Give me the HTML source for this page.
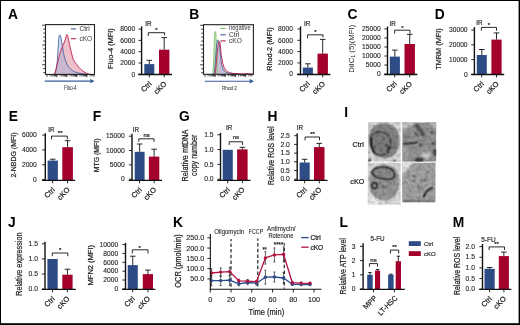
<!DOCTYPE html><html><head><meta charset="utf-8"><style>html,body{margin:0;padding:0;background:#fff;}svg{display:block;font-family:"Liberation Sans", sans-serif;will-change:transform;}</style></head><body>
<svg width="520" height="325" viewBox="0 0 520 325" xmlns="http://www.w3.org/2000/svg">
<rect x="0" y="0" width="520" height="325" fill="#000"/>
<rect x="1" y="1" width="517.6" height="322.2" fill="#fff"/>
<text x="8" y="19.39" font-size="13.8" fill="#000" font-weight="bold">A</text>
<text x="189.2" y="19.39" font-size="13.8" fill="#000" font-weight="bold">B</text>
<text x="347.4" y="19.39" font-size="13.8" fill="#000" font-weight="bold">C</text>
<text x="434.7" y="19.39" font-size="13.8" fill="#000" font-weight="bold">D</text>
<text x="8.8" y="120.59" font-size="13.8" fill="#000" font-weight="bold">E</text>
<text x="92.7" y="120.59" font-size="13.8" fill="#000" font-weight="bold">F</text>
<text x="178.9" y="120.59" font-size="13.8" fill="#000" font-weight="bold">G</text>
<text x="267.6" y="120.59" font-size="13.8" fill="#000" font-weight="bold">H</text>
<text x="344.3" y="116.89" font-size="13.8" fill="#000" font-weight="bold">I</text>
<text x="8" y="227.39" font-size="13.8" fill="#000" font-weight="bold">J</text>
<text x="173" y="227.39" font-size="13.8" fill="#000" font-weight="bold">K</text>
<text x="339.5" y="227.39" font-size="13.8" fill="#000" font-weight="bold">L</text>
<text x="452.7" y="227.39" font-size="13.8" fill="#000" font-weight="bold">M</text>
<rect x="144.3" y="64.1" width="10" height="10.3" fill="#2d4c86" />
<line x1="149.3" y1="60.3" x2="149.3" y2="64.1" stroke="#111" stroke-width="0.9" />
<line x1="146.5" y1="60.3" x2="152.1" y2="60.3" stroke="#111" stroke-width="0.9" />
<rect x="159" y="49.7" width="10.4" height="24.7" fill="#a3002b" />
<line x1="164.2" y1="37.6" x2="164.2" y2="49.7" stroke="#111" stroke-width="0.9" />
<line x1="161.4" y1="37.6" x2="167" y2="37.6" stroke="#111" stroke-width="0.9" />
<line x1="141.6" y1="26.4" x2="141.6" y2="75.1" stroke="#111" stroke-width="1.4" />
<line x1="138.3" y1="74.52" x2="172" y2="74.52" stroke="#111" stroke-width="1.4" />
<line x1="138.5" y1="74.3" x2="141.5" y2="74.3" stroke="#111" stroke-width="0.9" />
<text x="135.2" y="76.5" font-size="7.7" fill="#222" stroke="#222" stroke-width="0.12" text-anchor="end" textLength="3.72" lengthAdjust="spacingAndGlyphs">0</text>
<line x1="138.5" y1="63" x2="141.5" y2="63" stroke="#111" stroke-width="0.9" />
<text x="135.2" y="65.2" font-size="7.7" fill="#222" stroke="#222" stroke-width="0.12" text-anchor="end" textLength="14.88" lengthAdjust="spacingAndGlyphs">2000</text>
<line x1="138.5" y1="51.7" x2="141.5" y2="51.7" stroke="#111" stroke-width="0.9" />
<text x="135.2" y="53.9" font-size="7.7" fill="#222" stroke="#222" stroke-width="0.12" text-anchor="end" textLength="14.88" lengthAdjust="spacingAndGlyphs">4000</text>
<line x1="138.5" y1="40.4" x2="141.5" y2="40.4" stroke="#111" stroke-width="0.9" />
<text x="135.2" y="42.6" font-size="7.7" fill="#222" stroke="#222" stroke-width="0.12" text-anchor="end" textLength="14.88" lengthAdjust="spacingAndGlyphs">6000</text>
<line x1="138.5" y1="29.1" x2="141.5" y2="29.1" stroke="#111" stroke-width="0.9" />
<text x="135.2" y="31.3" font-size="7.7" fill="#222" stroke="#222" stroke-width="0.12" text-anchor="end" textLength="14.88" lengthAdjust="spacingAndGlyphs">8000</text>
<line x1="149.3" y1="74.4" x2="149.3" y2="77.4" stroke="#111" stroke-width="0.9" />
<line x1="164.2" y1="74.4" x2="164.2" y2="77.4" stroke="#111" stroke-width="0.9" />
<text x="152.1" y="84.4" font-size="7.4" fill="#222" stroke="#222" stroke-width="0.22" text-anchor="end" transform="rotate(-45 152.1 84.4)">Ctrl</text>
<text x="167" y="84.4" font-size="7.4" fill="#222" stroke="#222" stroke-width="0.22" text-anchor="end" transform="rotate(-45 167 84.4)">cKO</text>
<path d="M148.3 36L148.3 32.7L164.6 32.7L164.6 35.3" fill="none" stroke="#111" stroke-width="0.9" stroke-linejoin="round"/>
<text x="156.5" y="31.9" font-size="6" fill="#222" stroke="#222" stroke-width="0.22" text-anchor="middle">*</text>
<text x="145.2" y="25.6" font-size="6.3" fill="#333" stroke="#333" stroke-width="0.22">IR</text>
<text x="113.2" y="48.6" font-size="7.6" fill="#222" stroke="#222" stroke-width="0.22" text-anchor="middle" transform="rotate(-90 113.2 48.6)" textLength="40.6" lengthAdjust="spacingAndGlyphs">Fluo-4 (MFI)</text>
<rect x="302.8" y="67.6" width="10.1" height="6.8" fill="#2d4c86" />
<line x1="307.85" y1="63.8" x2="307.85" y2="67.6" stroke="#111" stroke-width="0.9" />
<line x1="305.05" y1="63.8" x2="310.65" y2="63.8" stroke="#111" stroke-width="0.9" />
<rect x="317.5" y="53.6" width="10.4" height="20.8" fill="#a3002b" />
<line x1="322.7" y1="39.4" x2="322.7" y2="53.6" stroke="#111" stroke-width="0.9" />
<line x1="319.9" y1="39.4" x2="325.5" y2="39.4" stroke="#111" stroke-width="0.9" />
<line x1="300.5" y1="26.4" x2="300.5" y2="75.1" stroke="#111" stroke-width="1.4" />
<line x1="297.2" y1="74.52" x2="330.4" y2="74.52" stroke="#111" stroke-width="1.4" />
<line x1="297.4" y1="74.2" x2="300.4" y2="74.2" stroke="#111" stroke-width="0.9" />
<text x="292.9" y="76.4" font-size="7.7" fill="#222" stroke="#222" stroke-width="0.12" text-anchor="end" textLength="3.72" lengthAdjust="spacingAndGlyphs">0</text>
<line x1="297.4" y1="62.9" x2="300.4" y2="62.9" stroke="#111" stroke-width="0.9" />
<text x="292.9" y="65.1" font-size="7.7" fill="#222" stroke="#222" stroke-width="0.12" text-anchor="end" textLength="14.88" lengthAdjust="spacingAndGlyphs">2000</text>
<line x1="297.4" y1="51.6" x2="300.4" y2="51.6" stroke="#111" stroke-width="0.9" />
<text x="292.9" y="53.8" font-size="7.7" fill="#222" stroke="#222" stroke-width="0.12" text-anchor="end" textLength="14.88" lengthAdjust="spacingAndGlyphs">4000</text>
<line x1="297.4" y1="40.3" x2="300.4" y2="40.3" stroke="#111" stroke-width="0.9" />
<text x="292.9" y="42.5" font-size="7.7" fill="#222" stroke="#222" stroke-width="0.12" text-anchor="end" textLength="14.88" lengthAdjust="spacingAndGlyphs">6000</text>
<line x1="297.4" y1="29" x2="300.4" y2="29" stroke="#111" stroke-width="0.9" />
<text x="292.9" y="31.2" font-size="7.7" fill="#222" stroke="#222" stroke-width="0.12" text-anchor="end" textLength="14.88" lengthAdjust="spacingAndGlyphs">8000</text>
<line x1="307.6" y1="74.4" x2="307.6" y2="77.4" stroke="#111" stroke-width="0.9" />
<line x1="322.7" y1="74.4" x2="322.7" y2="77.4" stroke="#111" stroke-width="0.9" />
<text x="310.4" y="84.4" font-size="7.4" fill="#222" stroke="#222" stroke-width="0.22" text-anchor="end" transform="rotate(-45 310.4 84.4)">Ctrl</text>
<text x="325.5" y="84.4" font-size="7.4" fill="#222" stroke="#222" stroke-width="0.22" text-anchor="end" transform="rotate(-45 325.5 84.4)">cKO</text>
<path d="M307.6 38.3L307.6 34.8L323 34.8L323 37.5" fill="none" stroke="#111" stroke-width="0.9" stroke-linejoin="round"/>
<text x="315.3" y="34" font-size="6" fill="#222" stroke="#222" stroke-width="0.22" text-anchor="middle">*</text>
<text x="303.9" y="25.5" font-size="6.3" fill="#333" stroke="#333" stroke-width="0.22">IR</text>
<text x="271.8" y="49.1" font-size="7.6" fill="#222" stroke="#222" stroke-width="0.22" text-anchor="middle" transform="rotate(-90 271.8 49.1)" textLength="43.4" lengthAdjust="spacingAndGlyphs">Rhod-2 (MFI)</text>
<rect x="389.8" y="56.6" width="10.1" height="17.8" fill="#2d4c86" />
<line x1="394.85" y1="50.1" x2="394.85" y2="56.6" stroke="#111" stroke-width="0.9" />
<line x1="392.05" y1="50.1" x2="397.65" y2="50.1" stroke="#111" stroke-width="0.9" />
<rect x="404.5" y="44" width="10.4" height="30.4" fill="#a3002b" />
<line x1="409.7" y1="34.4" x2="409.7" y2="44" stroke="#111" stroke-width="0.9" />
<line x1="406.9" y1="34.4" x2="412.5" y2="34.4" stroke="#111" stroke-width="0.9" />
<line x1="387.5" y1="26.5" x2="387.5" y2="75.1" stroke="#111" stroke-width="1.4" />
<line x1="384.2" y1="74.52" x2="417.4" y2="74.52" stroke="#111" stroke-width="1.4" />
<line x1="384.4" y1="74.1" x2="387.4" y2="74.1" stroke="#111" stroke-width="0.9" />
<text x="380.7" y="76.3" font-size="7.7" fill="#222" stroke="#222" stroke-width="0.12" text-anchor="end" textLength="3.72" lengthAdjust="spacingAndGlyphs">0</text>
<line x1="384.4" y1="65.06" x2="387.4" y2="65.06" stroke="#111" stroke-width="0.9" />
<text x="380.7" y="67.26" font-size="7.7" fill="#222" stroke="#222" stroke-width="0.12" text-anchor="end" textLength="14.88" lengthAdjust="spacingAndGlyphs">5000</text>
<line x1="384.4" y1="56.02" x2="387.4" y2="56.02" stroke="#111" stroke-width="0.9" />
<text x="380.7" y="58.22" font-size="7.7" fill="#222" stroke="#222" stroke-width="0.12" text-anchor="end" textLength="18.6" lengthAdjust="spacingAndGlyphs">10000</text>
<line x1="384.4" y1="46.98" x2="387.4" y2="46.98" stroke="#111" stroke-width="0.9" />
<text x="380.7" y="49.18" font-size="7.7" fill="#222" stroke="#222" stroke-width="0.12" text-anchor="end" textLength="18.6" lengthAdjust="spacingAndGlyphs">15000</text>
<line x1="384.4" y1="37.94" x2="387.4" y2="37.94" stroke="#111" stroke-width="0.9" />
<text x="380.7" y="40.14" font-size="7.7" fill="#222" stroke="#222" stroke-width="0.12" text-anchor="end" textLength="18.6" lengthAdjust="spacingAndGlyphs">20000</text>
<line x1="384.4" y1="28.9" x2="387.4" y2="28.9" stroke="#111" stroke-width="0.9" />
<text x="380.7" y="31.1" font-size="7.7" fill="#222" stroke="#222" stroke-width="0.12" text-anchor="end" textLength="18.6" lengthAdjust="spacingAndGlyphs">25000</text>
<line x1="394.7" y1="74.4" x2="394.7" y2="77.4" stroke="#111" stroke-width="0.9" />
<line x1="409.7" y1="74.4" x2="409.7" y2="77.4" stroke="#111" stroke-width="0.9" />
<text x="397.5" y="84.4" font-size="7.4" fill="#222" stroke="#222" stroke-width="0.22" text-anchor="end" transform="rotate(-45 397.5 84.4)">Ctrl</text>
<text x="412.5" y="84.4" font-size="7.4" fill="#222" stroke="#222" stroke-width="0.22" text-anchor="end" transform="rotate(-45 412.5 84.4)">cKO</text>
<path d="M394.6 33.6L394.6 30.2L410 30.2L410 33.6" fill="none" stroke="#111" stroke-width="0.9" stroke-linejoin="round"/>
<text x="402.3" y="29.6" font-size="6" fill="#222" stroke="#222" stroke-width="0.22" text-anchor="middle">*</text>
<text x="389.4" y="25.5" font-size="6.3" fill="#333" stroke="#333" stroke-width="0.22">IR</text>
<rect x="476.8" y="55" width="10" height="19.4" fill="#2d4c86" />
<line x1="481.8" y1="49.5" x2="481.8" y2="55" stroke="#111" stroke-width="0.9" />
<line x1="479" y1="49.5" x2="484.6" y2="49.5" stroke="#111" stroke-width="0.9" />
<rect x="491.4" y="39.6" width="10.2" height="34.8" fill="#a3002b" />
<line x1="496.5" y1="32.9" x2="496.5" y2="39.6" stroke="#111" stroke-width="0.9" />
<line x1="493.7" y1="32.9" x2="499.3" y2="32.9" stroke="#111" stroke-width="0.9" />
<line x1="474.4" y1="27.1" x2="474.4" y2="75.1" stroke="#111" stroke-width="1.4" />
<line x1="471.1" y1="74.52" x2="504.2" y2="74.52" stroke="#111" stroke-width="1.4" />
<line x1="471.3" y1="74.4" x2="474.3" y2="74.4" stroke="#111" stroke-width="0.9" />
<text x="467.6" y="76.6" font-size="7.7" fill="#222" stroke="#222" stroke-width="0.12" text-anchor="end" textLength="3.72" lengthAdjust="spacingAndGlyphs">0</text>
<line x1="471.3" y1="59.63" x2="474.3" y2="59.63" stroke="#111" stroke-width="0.9" />
<text x="467.6" y="61.83" font-size="7.7" fill="#222" stroke="#222" stroke-width="0.12" text-anchor="end" textLength="18.6" lengthAdjust="spacingAndGlyphs">10000</text>
<line x1="471.3" y1="44.86" x2="474.3" y2="44.86" stroke="#111" stroke-width="0.9" />
<text x="467.6" y="47.06" font-size="7.7" fill="#222" stroke="#222" stroke-width="0.12" text-anchor="end" textLength="18.6" lengthAdjust="spacingAndGlyphs">20000</text>
<line x1="471.3" y1="30.09" x2="474.3" y2="30.09" stroke="#111" stroke-width="0.9" />
<text x="467.6" y="32.29" font-size="7.7" fill="#222" stroke="#222" stroke-width="0.12" text-anchor="end" textLength="18.6" lengthAdjust="spacingAndGlyphs">30000</text>
<line x1="481.7" y1="74.4" x2="481.7" y2="77.4" stroke="#111" stroke-width="0.9" />
<line x1="496.5" y1="74.4" x2="496.5" y2="77.4" stroke="#111" stroke-width="0.9" />
<text x="484.5" y="84.4" font-size="7.4" fill="#222" stroke="#222" stroke-width="0.22" text-anchor="end" transform="rotate(-45 484.5 84.4)">Ctrl</text>
<text x="499.3" y="84.4" font-size="7.4" fill="#222" stroke="#222" stroke-width="0.22" text-anchor="end" transform="rotate(-45 499.3 84.4)">cKO</text>
<path d="M481.4 30.7L481.4 27.4L496.5 27.4L496.5 30.7" fill="none" stroke="#111" stroke-width="0.9" stroke-linejoin="round"/>
<text x="488.8" y="26.5" font-size="6" fill="#222" stroke="#222" stroke-width="0.22" text-anchor="middle">*</text>
<text x="476.2" y="24.9" font-size="6.3" fill="#333" stroke="#333" stroke-width="0.22">IR</text>
<text x="441.3" y="49" font-size="7.6" fill="#222" stroke="#222" stroke-width="0.22" text-anchor="middle" transform="rotate(-90 441.3 49)" textLength="41.5" lengthAdjust="spacingAndGlyphs">TMRM (MFI)</text>
<rect x="47.6" y="160.6" width="10.3" height="19.7" fill="#2d4c86" />
<line x1="52.75" y1="159.2" x2="52.75" y2="160.6" stroke="#111" stroke-width="0.9" />
<line x1="49.95" y1="159.2" x2="55.55" y2="159.2" stroke="#111" stroke-width="0.9" />
<rect x="62.3" y="147.2" width="10.6" height="33.1" fill="#a3002b" />
<line x1="67.6" y1="140.7" x2="67.6" y2="147.2" stroke="#111" stroke-width="0.9" />
<line x1="64.8" y1="140.7" x2="70.4" y2="140.7" stroke="#111" stroke-width="0.9" />
<line x1="45.3" y1="133.3" x2="45.3" y2="181" stroke="#111" stroke-width="1.4" />
<line x1="42" y1="180.42" x2="75.2" y2="180.42" stroke="#111" stroke-width="1.4" />
<line x1="42.2" y1="179.6" x2="45.2" y2="179.6" stroke="#111" stroke-width="0.9" />
<text x="36.8" y="181.8" font-size="7.7" fill="#222" stroke="#222" stroke-width="0.12" text-anchor="end" textLength="3.72" lengthAdjust="spacingAndGlyphs">0</text>
<line x1="42.2" y1="164.75" x2="45.2" y2="164.75" stroke="#111" stroke-width="0.9" />
<text x="36.8" y="166.95" font-size="7.7" fill="#222" stroke="#222" stroke-width="0.12" text-anchor="end" textLength="14.88" lengthAdjust="spacingAndGlyphs">2000</text>
<line x1="42.2" y1="149.9" x2="45.2" y2="149.9" stroke="#111" stroke-width="0.9" />
<text x="36.8" y="152.1" font-size="7.7" fill="#222" stroke="#222" stroke-width="0.12" text-anchor="end" textLength="14.88" lengthAdjust="spacingAndGlyphs">4000</text>
<line x1="42.2" y1="135.05" x2="45.2" y2="135.05" stroke="#111" stroke-width="0.9" />
<text x="36.8" y="137.25" font-size="7.7" fill="#222" stroke="#222" stroke-width="0.12" text-anchor="end" textLength="14.88" lengthAdjust="spacingAndGlyphs">6000</text>
<line x1="52.6" y1="180.3" x2="52.6" y2="183.3" stroke="#111" stroke-width="0.9" />
<line x1="67.5" y1="180.3" x2="67.5" y2="183.3" stroke="#111" stroke-width="0.9" />
<text x="55.4" y="190.3" font-size="7.4" fill="#222" stroke="#222" stroke-width="0.22" text-anchor="end" transform="rotate(-45 55.4 190.3)">Ctrl</text>
<text x="70.3" y="190.3" font-size="7.4" fill="#222" stroke="#222" stroke-width="0.22" text-anchor="end" transform="rotate(-45 70.3 190.3)">cKO</text>
<path d="M51.5 139.4L51.5 136.1L67.3 136.1L67.3 139.4" fill="none" stroke="#111" stroke-width="0.9" stroke-linejoin="round"/>
<text x="60.2" y="135.4" font-size="6" fill="#222" stroke="#222" stroke-width="0.22" text-anchor="middle">**</text>
<text x="48.3" y="131.5" font-size="6.3" fill="#333" stroke="#333" stroke-width="0.22">IR</text>
<text x="16.3" y="155" font-size="7.6" fill="#222" stroke="#222" stroke-width="0.22" text-anchor="middle" transform="rotate(-90 16.3 155)" textLength="45.2" lengthAdjust="spacingAndGlyphs">2-NBDG (MFI)</text>
<rect x="134.7" y="151.8" width="9.9" height="28.5" fill="#2d4c86" />
<line x1="139.65" y1="144" x2="139.65" y2="151.8" stroke="#111" stroke-width="0.9" />
<line x1="136.85" y1="144" x2="142.45" y2="144" stroke="#111" stroke-width="0.9" />
<rect x="148.9" y="156.6" width="10.4" height="23.7" fill="#a3002b" />
<line x1="154.1" y1="149.2" x2="154.1" y2="156.6" stroke="#111" stroke-width="0.9" />
<line x1="151.3" y1="149.2" x2="156.9" y2="149.2" stroke="#111" stroke-width="0.9" />
<line x1="132" y1="133.8" x2="132" y2="181" stroke="#111" stroke-width="1.4" />
<line x1="128.7" y1="180.42" x2="162" y2="180.42" stroke="#111" stroke-width="1.4" />
<line x1="128.9" y1="179.2" x2="131.9" y2="179.2" stroke="#111" stroke-width="0.9" />
<text x="124.7" y="181.4" font-size="7.7" fill="#222" stroke="#222" stroke-width="0.12" text-anchor="end" textLength="3.72" lengthAdjust="spacingAndGlyphs">0</text>
<line x1="128.9" y1="164.87" x2="131.9" y2="164.87" stroke="#111" stroke-width="0.9" />
<text x="124.7" y="167.07" font-size="7.7" fill="#222" stroke="#222" stroke-width="0.12" text-anchor="end" textLength="14.88" lengthAdjust="spacingAndGlyphs">5000</text>
<line x1="128.9" y1="150.54" x2="131.9" y2="150.54" stroke="#111" stroke-width="0.9" />
<text x="124.7" y="152.74" font-size="7.7" fill="#222" stroke="#222" stroke-width="0.12" text-anchor="end" textLength="18.6" lengthAdjust="spacingAndGlyphs">10000</text>
<line x1="128.9" y1="136.21" x2="131.9" y2="136.21" stroke="#111" stroke-width="0.9" />
<text x="124.7" y="138.41" font-size="7.7" fill="#222" stroke="#222" stroke-width="0.12" text-anchor="end" textLength="18.6" lengthAdjust="spacingAndGlyphs">15000</text>
<line x1="139.5" y1="180.3" x2="139.5" y2="183.3" stroke="#111" stroke-width="0.9" />
<line x1="154.1" y1="180.3" x2="154.1" y2="183.3" stroke="#111" stroke-width="0.9" />
<text x="142.3" y="190.3" font-size="7.4" fill="#222" stroke="#222" stroke-width="0.22" text-anchor="end" transform="rotate(-45 142.3 190.3)">Ctrl</text>
<text x="156.9" y="190.3" font-size="7.4" fill="#222" stroke="#222" stroke-width="0.22" text-anchor="end" transform="rotate(-45 156.9 190.3)">cKO</text>
<path d="M138.8 141.8L138.8 138.8L154 138.8L154 141.8" fill="none" stroke="#111" stroke-width="0.9" stroke-linejoin="round"/>
<text x="146.7" y="137.2" font-size="6" fill="#222" stroke="#222" stroke-width="0.22" text-anchor="middle">ns</text>
<text x="132.8" y="131.5" font-size="6.3" fill="#333" stroke="#333" stroke-width="0.22">IR</text>
<text x="98.9" y="155.4" font-size="7.6" fill="#222" stroke="#222" stroke-width="0.22" text-anchor="middle" transform="rotate(-90 98.9 155.4)" textLength="33.8" lengthAdjust="spacingAndGlyphs">MTG (MFI)</text>
<rect x="222.7" y="149.8" width="10.1" height="30.5" fill="#2d4c86" />
<rect x="237.1" y="149.4" width="10.5" height="30.9" fill="#a3002b" />
<line x1="242.35" y1="147.3" x2="242.35" y2="149.4" stroke="#111" stroke-width="0.9" />
<line x1="239.55" y1="147.3" x2="245.15" y2="147.3" stroke="#111" stroke-width="0.9" />
<line x1="220.5" y1="132.9" x2="220.5" y2="181" stroke="#111" stroke-width="1.4" />
<line x1="217.2" y1="180.42" x2="250.5" y2="180.42" stroke="#111" stroke-width="1.4" />
<line x1="217.4" y1="179.2" x2="220.4" y2="179.2" stroke="#111" stroke-width="0.9" />
<text x="213.6" y="181.4" font-size="7.7" fill="#222" stroke="#222" stroke-width="0.12" text-anchor="end" textLength="9.44" lengthAdjust="spacingAndGlyphs">0.0</text>
<line x1="217.4" y1="164.4" x2="220.4" y2="164.4" stroke="#111" stroke-width="0.9" />
<text x="213.6" y="166.6" font-size="7.7" fill="#222" stroke="#222" stroke-width="0.12" text-anchor="end" textLength="9.44" lengthAdjust="spacingAndGlyphs">0.5</text>
<line x1="217.4" y1="149.6" x2="220.4" y2="149.6" stroke="#111" stroke-width="0.9" />
<text x="213.6" y="151.8" font-size="7.7" fill="#222" stroke="#222" stroke-width="0.12" text-anchor="end" textLength="9.44" lengthAdjust="spacingAndGlyphs">1.0</text>
<line x1="217.4" y1="134.8" x2="220.4" y2="134.8" stroke="#111" stroke-width="0.9" />
<text x="213.6" y="137" font-size="7.7" fill="#222" stroke="#222" stroke-width="0.12" text-anchor="end" textLength="9.44" lengthAdjust="spacingAndGlyphs">1.5</text>
<line x1="227.7" y1="180.3" x2="227.7" y2="183.3" stroke="#111" stroke-width="0.9" />
<line x1="242.4" y1="180.3" x2="242.4" y2="183.3" stroke="#111" stroke-width="0.9" />
<text x="230.5" y="190.3" font-size="7.4" fill="#222" stroke="#222" stroke-width="0.22" text-anchor="end" transform="rotate(-45 230.5 190.3)">Ctrl</text>
<text x="245.2" y="190.3" font-size="7.4" fill="#222" stroke="#222" stroke-width="0.22" text-anchor="end" transform="rotate(-45 245.2 190.3)">cKO</text>
<path d="M229.2 144.9L229.2 141.8L242.6 141.8L242.6 144.9" fill="none" stroke="#111" stroke-width="0.9" stroke-linejoin="round"/>
<text x="235.8" y="139" font-size="6" fill="#222" stroke="#222" stroke-width="0.22" text-anchor="middle">ns</text>
<text x="226" y="130.2" font-size="6.3" fill="#333" stroke="#333" stroke-width="0.22">IR</text>
<text x="188" y="155.5" font-size="8.3" fill="#222" stroke="#222" stroke-width="0.22" text-anchor="middle" transform="rotate(-90 188 155.5)" textLength="52" lengthAdjust="spacingAndGlyphs">Relative mtDNA</text>
<text x="196.9" y="155.3" font-size="8.3" fill="#222" stroke="#222" stroke-width="0.22" text-anchor="middle" transform="rotate(-90 196.9 155.3)" textLength="41.2" lengthAdjust="spacingAndGlyphs">copy number</text>
<rect x="299.6" y="162.5" width="10.1" height="17.8" fill="#2d4c86" />
<line x1="304.65" y1="159.3" x2="304.65" y2="162.5" stroke="#111" stroke-width="0.9" />
<line x1="301.85" y1="159.3" x2="307.45" y2="159.3" stroke="#111" stroke-width="0.9" />
<rect x="314" y="147.1" width="10.5" height="33.2" fill="#a3002b" />
<line x1="319.25" y1="143.4" x2="319.25" y2="147.1" stroke="#111" stroke-width="0.9" />
<line x1="316.45" y1="143.4" x2="322.05" y2="143.4" stroke="#111" stroke-width="0.9" />
<line x1="297.2" y1="133.3" x2="297.2" y2="181" stroke="#111" stroke-width="1.4" />
<line x1="293.9" y1="180.42" x2="327.5" y2="180.42" stroke="#111" stroke-width="1.4" />
<line x1="294.1" y1="179.2" x2="297.1" y2="179.2" stroke="#111" stroke-width="0.9" />
<text x="289.9" y="181.4" font-size="7.7" fill="#222" stroke="#222" stroke-width="0.12" text-anchor="end" textLength="9.44" lengthAdjust="spacingAndGlyphs">0.0</text>
<line x1="294.1" y1="170.5" x2="297.1" y2="170.5" stroke="#111" stroke-width="0.9" />
<text x="289.9" y="172.7" font-size="7.7" fill="#222" stroke="#222" stroke-width="0.12" text-anchor="end" textLength="9.44" lengthAdjust="spacingAndGlyphs">0.5</text>
<line x1="294.1" y1="161.8" x2="297.1" y2="161.8" stroke="#111" stroke-width="0.9" />
<text x="289.9" y="164" font-size="7.7" fill="#222" stroke="#222" stroke-width="0.12" text-anchor="end" textLength="9.44" lengthAdjust="spacingAndGlyphs">1.0</text>
<line x1="294.1" y1="153.1" x2="297.1" y2="153.1" stroke="#111" stroke-width="0.9" />
<text x="289.9" y="155.3" font-size="7.7" fill="#222" stroke="#222" stroke-width="0.12" text-anchor="end" textLength="9.44" lengthAdjust="spacingAndGlyphs">1.5</text>
<line x1="294.1" y1="144.4" x2="297.1" y2="144.4" stroke="#111" stroke-width="0.9" />
<text x="289.9" y="146.6" font-size="7.7" fill="#222" stroke="#222" stroke-width="0.12" text-anchor="end" textLength="9.44" lengthAdjust="spacingAndGlyphs">2.0</text>
<line x1="294.1" y1="135.7" x2="297.1" y2="135.7" stroke="#111" stroke-width="0.9" />
<text x="289.9" y="137.9" font-size="7.7" fill="#222" stroke="#222" stroke-width="0.12" text-anchor="end" textLength="9.44" lengthAdjust="spacingAndGlyphs">2.5</text>
<line x1="304.6" y1="180.3" x2="304.6" y2="183.3" stroke="#111" stroke-width="0.9" />
<line x1="319.3" y1="180.3" x2="319.3" y2="183.3" stroke="#111" stroke-width="0.9" />
<text x="307.4" y="190.3" font-size="7.4" fill="#222" stroke="#222" stroke-width="0.22" text-anchor="end" transform="rotate(-45 307.4 190.3)">Ctrl</text>
<text x="322.1" y="190.3" font-size="7.4" fill="#222" stroke="#222" stroke-width="0.22" text-anchor="end" transform="rotate(-45 322.1 190.3)">cKO</text>
<path d="M305.1 140.3L305.1 137L319.5 137L319.5 140.3" fill="none" stroke="#111" stroke-width="0.9" stroke-linejoin="round"/>
<text x="312.5" y="135.9" font-size="6" fill="#222" stroke="#222" stroke-width="0.22" text-anchor="middle">**</text>
<text x="296.8" y="130.2" font-size="6.3" fill="#333" stroke="#333" stroke-width="0.22">IR</text>
<text x="274.4" y="155.7" font-size="8.3" fill="#222" stroke="#222" stroke-width="0.22" text-anchor="middle" transform="rotate(-90 274.4 155.7)" textLength="58.4" lengthAdjust="spacingAndGlyphs">Relative ROS level</text>
<rect x="47.4" y="259" width="10.3" height="30.3" fill="#2d4c86" />
<rect x="62.3" y="274.7" width="10.3" height="14.6" fill="#a3002b" />
<line x1="67.45" y1="269.2" x2="67.45" y2="274.7" stroke="#111" stroke-width="0.9" />
<line x1="64.65" y1="269.2" x2="70.25" y2="269.2" stroke="#111" stroke-width="0.9" />
<line x1="45" y1="241.7" x2="45" y2="290" stroke="#111" stroke-width="1.4" />
<line x1="41.7" y1="289.42" x2="75.8" y2="289.42" stroke="#111" stroke-width="1.4" />
<line x1="41.9" y1="289.1" x2="44.9" y2="289.1" stroke="#111" stroke-width="0.9" />
<text x="38" y="291.3" font-size="7.7" fill="#222" stroke="#222" stroke-width="0.12" text-anchor="end" textLength="9.44" lengthAdjust="spacingAndGlyphs">0.0</text>
<line x1="41.9" y1="274" x2="44.9" y2="274" stroke="#111" stroke-width="0.9" />
<text x="38" y="276.2" font-size="7.7" fill="#222" stroke="#222" stroke-width="0.12" text-anchor="end" textLength="9.44" lengthAdjust="spacingAndGlyphs">0.5</text>
<line x1="41.9" y1="258.9" x2="44.9" y2="258.9" stroke="#111" stroke-width="0.9" />
<text x="38" y="261.1" font-size="7.7" fill="#222" stroke="#222" stroke-width="0.12" text-anchor="end" textLength="9.44" lengthAdjust="spacingAndGlyphs">1.0</text>
<line x1="41.9" y1="243.8" x2="44.9" y2="243.8" stroke="#111" stroke-width="0.9" />
<text x="38" y="246" font-size="7.7" fill="#222" stroke="#222" stroke-width="0.12" text-anchor="end" textLength="9.44" lengthAdjust="spacingAndGlyphs">1.5</text>
<line x1="52.5" y1="289.3" x2="52.5" y2="292.3" stroke="#111" stroke-width="0.9" />
<line x1="67.4" y1="289.3" x2="67.4" y2="292.3" stroke="#111" stroke-width="0.9" />
<text x="55.3" y="299.3" font-size="7.4" fill="#222" stroke="#222" stroke-width="0.22" text-anchor="end" transform="rotate(-45 55.3 299.3)">Ctrl</text>
<text x="70.2" y="299.3" font-size="7.4" fill="#222" stroke="#222" stroke-width="0.22" text-anchor="end" transform="rotate(-45 70.2 299.3)">cKO</text>
<path d="M52.3 256.2L52.3 253L67.8 253L67.8 256.2" fill="none" stroke="#111" stroke-width="0.9" stroke-linejoin="round"/>
<text x="60.1" y="252.2" font-size="6" fill="#222" stroke="#222" stroke-width="0.22" text-anchor="middle">*</text>
<text x="22.4" y="264.2" font-size="8.7" fill="#222" stroke="#222" stroke-width="0.22" text-anchor="middle" transform="rotate(-90 22.4 264.2)" textLength="63.3" lengthAdjust="spacingAndGlyphs">Relative expression</text>
<rect x="127.7" y="265.1" width="10.1" height="24.2" fill="#2d4c86" />
<line x1="132.75" y1="256.2" x2="132.75" y2="265.1" stroke="#111" stroke-width="0.9" />
<line x1="129.95" y1="256.2" x2="135.55" y2="256.2" stroke="#111" stroke-width="0.9" />
<rect x="142.8" y="274.1" width="10.2" height="15.2" fill="#a3002b" />
<line x1="147.9" y1="270.1" x2="147.9" y2="274.1" stroke="#111" stroke-width="0.9" />
<line x1="145.1" y1="270.1" x2="150.7" y2="270.1" stroke="#111" stroke-width="0.9" />
<line x1="125.5" y1="242.8" x2="125.5" y2="290" stroke="#111" stroke-width="1.4" />
<line x1="122.2" y1="289.42" x2="155.4" y2="289.42" stroke="#111" stroke-width="1.4" />
<line x1="122.4" y1="288.9" x2="125.4" y2="288.9" stroke="#111" stroke-width="0.9" />
<text x="118.2" y="291.1" font-size="7.7" fill="#222" stroke="#222" stroke-width="0.12" text-anchor="end" textLength="3.72" lengthAdjust="spacingAndGlyphs">0</text>
<line x1="122.4" y1="280.04" x2="125.4" y2="280.04" stroke="#111" stroke-width="0.9" />
<text x="118.2" y="282.24" font-size="7.7" fill="#222" stroke="#222" stroke-width="0.12" text-anchor="end" textLength="14.88" lengthAdjust="spacingAndGlyphs">2000</text>
<line x1="122.4" y1="271.18" x2="125.4" y2="271.18" stroke="#111" stroke-width="0.9" />
<text x="118.2" y="273.38" font-size="7.7" fill="#222" stroke="#222" stroke-width="0.12" text-anchor="end" textLength="14.88" lengthAdjust="spacingAndGlyphs">4000</text>
<line x1="122.4" y1="262.32" x2="125.4" y2="262.32" stroke="#111" stroke-width="0.9" />
<text x="118.2" y="264.52" font-size="7.7" fill="#222" stroke="#222" stroke-width="0.12" text-anchor="end" textLength="14.88" lengthAdjust="spacingAndGlyphs">6000</text>
<line x1="122.4" y1="253.46" x2="125.4" y2="253.46" stroke="#111" stroke-width="0.9" />
<text x="118.2" y="255.66" font-size="7.7" fill="#222" stroke="#222" stroke-width="0.12" text-anchor="end" textLength="14.88" lengthAdjust="spacingAndGlyphs">8000</text>
<line x1="122.4" y1="244.6" x2="125.4" y2="244.6" stroke="#111" stroke-width="0.9" />
<text x="118.2" y="246.8" font-size="7.7" fill="#222" stroke="#222" stroke-width="0.12" text-anchor="end" textLength="18.6" lengthAdjust="spacingAndGlyphs">10000</text>
<line x1="132.7" y1="289.3" x2="132.7" y2="292.3" stroke="#111" stroke-width="0.9" />
<line x1="147.9" y1="289.3" x2="147.9" y2="292.3" stroke="#111" stroke-width="0.9" />
<text x="135.5" y="299.3" font-size="7.4" fill="#222" stroke="#222" stroke-width="0.22" text-anchor="end" transform="rotate(-45 135.5 299.3)">Ctrl</text>
<text x="150.7" y="299.3" font-size="7.4" fill="#222" stroke="#222" stroke-width="0.22" text-anchor="end" transform="rotate(-45 150.7 299.3)">cKO</text>
<path d="M132.3 253.5L132.3 249.8L148 249.8L148 253.5" fill="none" stroke="#111" stroke-width="0.9" stroke-linejoin="round"/>
<text x="139.7" y="249.6" font-size="6" fill="#222" stroke="#222" stroke-width="0.22" text-anchor="middle">*</text>
<text x="93.2" y="265.2" font-size="7.6" fill="#222" stroke="#222" stroke-width="0.22" text-anchor="middle" transform="rotate(-90 93.2 265.2)" textLength="40.5" lengthAdjust="spacingAndGlyphs">MFN2 (MFI)</text>
<rect x="367.2" y="274.7" width="5.5" height="14.6" fill="#2d4c86" />
<line x1="369.95" y1="272.5" x2="369.95" y2="274.7" stroke="#111" stroke-width="0.9" />
<line x1="368.25" y1="272.5" x2="371.65" y2="272.5" stroke="#111" stroke-width="0.9" />
<rect x="375" y="270.6" width="5.1" height="18.7" fill="#a3002b" />
<line x1="377.55" y1="269.5" x2="377.55" y2="270.6" stroke="#111" stroke-width="0.9" />
<line x1="375.85" y1="269.5" x2="379.25" y2="269.5" stroke="#111" stroke-width="0.9" />
<rect x="388.1" y="274.7" width="5.5" height="14.6" fill="#2d4c86" />
<line x1="390.85" y1="274.2" x2="390.85" y2="274.7" stroke="#111" stroke-width="0.9" />
<line x1="389.15" y1="274.2" x2="392.55" y2="274.2" stroke="#111" stroke-width="0.9" />
<rect x="395.7" y="261.2" width="5.3" height="28.1" fill="#a3002b" />
<line x1="398.35" y1="256.2" x2="398.35" y2="261.2" stroke="#111" stroke-width="0.9" />
<line x1="396.65" y1="256.2" x2="400.05" y2="256.2" stroke="#111" stroke-width="0.9" />
<line x1="363.1" y1="243.3" x2="363.1" y2="290" stroke="#111" stroke-width="1.4" />
<line x1="359.8" y1="289.42" x2="404.8" y2="289.42" stroke="#111" stroke-width="1.4" />
<line x1="360" y1="289" x2="363" y2="289" stroke="#111" stroke-width="0.9" />
<text x="355.4" y="291.2" font-size="7.7" fill="#222" stroke="#222" stroke-width="0.12" text-anchor="end" textLength="3.72" lengthAdjust="spacingAndGlyphs">0</text>
<line x1="360" y1="274.8" x2="363" y2="274.8" stroke="#111" stroke-width="0.9" />
<text x="355.4" y="277" font-size="7.7" fill="#222" stroke="#222" stroke-width="0.12" text-anchor="end" textLength="3.72" lengthAdjust="spacingAndGlyphs">1</text>
<line x1="360" y1="260.6" x2="363" y2="260.6" stroke="#111" stroke-width="0.9" />
<text x="355.4" y="262.8" font-size="7.7" fill="#222" stroke="#222" stroke-width="0.12" text-anchor="end" textLength="3.72" lengthAdjust="spacingAndGlyphs">2</text>
<line x1="360" y1="246.4" x2="363" y2="246.4" stroke="#111" stroke-width="0.9" />
<text x="355.4" y="248.6" font-size="7.7" fill="#222" stroke="#222" stroke-width="0.12" text-anchor="end" textLength="3.72" lengthAdjust="spacingAndGlyphs">3</text>
<line x1="373.5" y1="289.3" x2="373.5" y2="292.3" stroke="#111" stroke-width="0.9" />
<line x1="394.4" y1="289.3" x2="394.4" y2="292.3" stroke="#111" stroke-width="0.9" />
<path d="M369.4 266.7L369.4 263.6L377.5 263.6L377.5 266.7" fill="none" stroke="#111" stroke-width="0.9" stroke-linejoin="round"/>
<text x="373.5" y="262" font-size="6" fill="#222" stroke="#222" stroke-width="0.22" text-anchor="middle">ns</text>
<path d="M390.4 253.5L390.4 250.1L398.7 250.1L398.7 253.5" fill="none" stroke="#111" stroke-width="0.9" stroke-linejoin="round"/>
<text x="394.5" y="249.2" font-size="6" fill="#222" stroke="#222" stroke-width="0.22" text-anchor="middle">**</text>
<text x="370.6" y="241.4" font-size="7.3" fill="#333" stroke="#333" stroke-width="0.22" textLength="14" lengthAdjust="spacingAndGlyphs">5-FU</text>
<text x="346.4" y="266.3" font-size="8.6" fill="#222" stroke="#222" stroke-width="0.22" text-anchor="middle" transform="rotate(-90 346.4 266.3)" textLength="56.3" lengthAdjust="spacingAndGlyphs">Relative ATP level</text>
<rect x="484.5" y="268.8" width="10.2" height="20.5" fill="#2d4c86" />
<line x1="489.6" y1="267.5" x2="489.6" y2="268.8" stroke="#111" stroke-width="0.9" />
<line x1="486.8" y1="267.5" x2="492.4" y2="267.5" stroke="#111" stroke-width="0.9" />
<rect x="498.8" y="256.1" width="10.1" height="33.2" fill="#a3002b" />
<line x1="503.85" y1="252.1" x2="503.85" y2="256.1" stroke="#111" stroke-width="0.9" />
<line x1="501.05" y1="252.1" x2="506.65" y2="252.1" stroke="#111" stroke-width="0.9" />
<line x1="482.5" y1="244" x2="482.5" y2="290" stroke="#111" stroke-width="1.4" />
<line x1="479.2" y1="289.42" x2="511.3" y2="289.42" stroke="#111" stroke-width="1.4" />
<line x1="479.4" y1="289.2" x2="482.4" y2="289.2" stroke="#111" stroke-width="0.9" />
<text x="475" y="291.4" font-size="7.7" fill="#222" stroke="#222" stroke-width="0.12" text-anchor="end" textLength="9.44" lengthAdjust="spacingAndGlyphs">0.0</text>
<line x1="479.4" y1="278.55" x2="482.4" y2="278.55" stroke="#111" stroke-width="0.9" />
<text x="475" y="280.75" font-size="7.7" fill="#222" stroke="#222" stroke-width="0.12" text-anchor="end" textLength="9.44" lengthAdjust="spacingAndGlyphs">0.5</text>
<line x1="479.4" y1="267.9" x2="482.4" y2="267.9" stroke="#111" stroke-width="0.9" />
<text x="475" y="270.1" font-size="7.7" fill="#222" stroke="#222" stroke-width="0.12" text-anchor="end" textLength="9.44" lengthAdjust="spacingAndGlyphs">1.0</text>
<line x1="479.4" y1="257.25" x2="482.4" y2="257.25" stroke="#111" stroke-width="0.9" />
<text x="475" y="259.45" font-size="7.7" fill="#222" stroke="#222" stroke-width="0.12" text-anchor="end" textLength="9.44" lengthAdjust="spacingAndGlyphs">1.5</text>
<line x1="479.4" y1="246.6" x2="482.4" y2="246.6" stroke="#111" stroke-width="0.9" />
<text x="475" y="248.8" font-size="7.7" fill="#222" stroke="#222" stroke-width="0.12" text-anchor="end" textLength="9.44" lengthAdjust="spacingAndGlyphs">2.0</text>
<line x1="489.6" y1="289.3" x2="489.6" y2="292.3" stroke="#111" stroke-width="0.9" />
<line x1="503.9" y1="289.3" x2="503.9" y2="292.3" stroke="#111" stroke-width="0.9" />
<text x="492.4" y="299.3" font-size="7.4" fill="#222" stroke="#222" stroke-width="0.22" text-anchor="end" transform="rotate(-45 492.4 299.3)">Ctrl</text>
<text x="506.7" y="299.3" font-size="7.4" fill="#222" stroke="#222" stroke-width="0.22" text-anchor="end" transform="rotate(-45 506.7 299.3)">cKO</text>
<path d="M489.1 250L489.1 246.9L504.5 246.9L504.5 250" fill="none" stroke="#111" stroke-width="0.9" stroke-linejoin="round"/>
<text x="496.6" y="245.8" font-size="6" fill="#222" stroke="#222" stroke-width="0.22" text-anchor="middle">**</text>
<text x="481.2" y="241.7" font-size="7.3" fill="#333" stroke="#333" stroke-width="0.22" textLength="14.4" lengthAdjust="spacingAndGlyphs">5-FU</text>
<text x="459.9" y="265.9" font-size="8.6" fill="#222" stroke="#222" stroke-width="0.22" text-anchor="middle" transform="rotate(-90 459.9 265.9)" textLength="58.2" lengthAdjust="spacingAndGlyphs">Relative ROS level</text>
<text x="354.0" y="48.7" font-size="8.0" fill="#222" text-anchor="middle" transform="rotate(-90 354.0 48.7)" textLength="48" lengthAdjust="spacingAndGlyphs">DiIC<tspan font-size="5.2" dy="1.3">1</tspan><tspan dy="-1.3"> (5)(MFI)</tspan></text>
<text x="377.4" y="298.5" font-size="7.4" fill="#222" stroke="#222" stroke-width="0.22" text-anchor="end" transform="rotate(-45 377.4 298.5)">MPP</text>
<text x="398" y="298.6" font-size="7.4" fill="#222" stroke="#222" stroke-width="0.22" text-anchor="end" transform="rotate(-45 398 298.6)" textLength="24.5" lengthAdjust="spacingAndGlyphs">LT-HSC</text>
<rect x="408.8" y="241.2" width="12" height="4.8" fill="#2d4c86" />
<rect x="408.8" y="251.2" width="12" height="4.8" fill="#a3002b" />
<text x="424" y="245.5" font-size="6" fill="#333" stroke="#333" stroke-width="0.22">Ctrl</text>
<text x="424" y="255.5" font-size="6" fill="#333" stroke="#333" stroke-width="0.22">cKO</text>
<path d="M54.5 74.5 L56 69 L57.5 63 L59 57 L60 53.3 L61.5 49 L63 45.4 L64.3 42 L65.4 39.2 L66.2 36 L66.9 34.6 L67.6 35.5 L68.5 39.2 L69.6 44.5 L70.8 50 L72 55 L73.1 59.2 L75 62.3 L76.9 64.6 L79 67.5 L81.5 70 L84 71.8 L86.2 73.1 L88 73.9 L90 74.4 L92 74.5Z" fill="#e5a9b9" fill-opacity="0.75" stroke="none"/>
<path d="M54.5 74.5 L56.2 70 L57.2 62 L58 50 L58.6 40 L59.2 35.5 L59.7 34.9 L60.3 35.6 L61.2 39 L62.2 45 L63 50 L64.2 56 L65.4 60.5 L67 64.5 L68.5 66.9 L71 69.5 L73.8 71.5 L78 73 L83 73.8 L88 74.3 L90 74.5Z" fill="#a6b4d6" fill-opacity="0.5" stroke="none"/>
<path d="M54.5 74.5 L56.2 70 L57.2 62 L58 50 L58.6 40 L59.2 35.5 L59.7 34.9 L60.3 35.6 L61.2 39 L62.2 45 L63 50 L64.2 56 L65.4 60.5 L67 64.5 L68.5 66.9 L71 69.5 L73.8 71.5 L78 73 L83 73.8 L88 74.3 L90 74.5" fill="none" stroke="#3d5f9e" stroke-width="0.8" stroke-linejoin="round"/>
<path d="M54.5 74.5 L56 69 L57.5 63 L59 57 L60 53.3 L61.5 49 L63 45.4 L64.3 42 L65.4 39.2 L66.2 36 L66.9 34.6 L67.6 35.5 L68.5 39.2 L69.6 44.5 L70.8 50 L72 55 L73.1 59.2 L75 62.3 L76.9 64.6 L79 67.5 L81.5 70 L84 71.8 L86.2 73.1 L88 73.9 L90 74.4 L92 74.5" fill="none" stroke="#c0264f" stroke-width="0.9" stroke-linejoin="round"/>
<line x1="42.1" y1="25.2" x2="45.5" y2="25.2" stroke="#222" stroke-width="0.85" />
<line x1="43.2" y1="29.15" x2="45.5" y2="29.15" stroke="#222" stroke-width="0.85" />
<line x1="43.2" y1="33.1" x2="45.5" y2="33.1" stroke="#222" stroke-width="0.85" />
<line x1="43.2" y1="37.05" x2="45.5" y2="37.05" stroke="#222" stroke-width="0.85" />
<line x1="43.2" y1="41" x2="45.5" y2="41" stroke="#222" stroke-width="0.85" />
<line x1="42.1" y1="44.95" x2="45.5" y2="44.95" stroke="#222" stroke-width="0.85" />
<line x1="43.2" y1="48.9" x2="45.5" y2="48.9" stroke="#222" stroke-width="0.85" />
<line x1="43.2" y1="52.85" x2="45.5" y2="52.85" stroke="#222" stroke-width="0.85" />
<line x1="43.2" y1="56.8" x2="45.5" y2="56.8" stroke="#222" stroke-width="0.85" />
<line x1="43.2" y1="60.75" x2="45.5" y2="60.75" stroke="#222" stroke-width="0.85" />
<line x1="42.1" y1="64.7" x2="45.5" y2="64.7" stroke="#222" stroke-width="0.85" />
<line x1="43.2" y1="68.65" x2="45.5" y2="68.65" stroke="#222" stroke-width="0.85" />
<line x1="43.2" y1="72.6" x2="45.5" y2="72.6" stroke="#222" stroke-width="0.85" />
<line x1="47" y1="74.4" x2="47" y2="77.2" stroke="#222" stroke-width="0.75" />
<line x1="50.01" y1="74.4" x2="50.01" y2="76.4" stroke="#222" stroke-width="0.75" />
<line x1="51.77" y1="74.4" x2="51.77" y2="76.4" stroke="#222" stroke-width="0.75" />
<line x1="53.02" y1="74.4" x2="53.02" y2="76.4" stroke="#222" stroke-width="0.75" />
<line x1="53.99" y1="74.4" x2="53.99" y2="76.4" stroke="#222" stroke-width="0.75" />
<line x1="54.78" y1="74.4" x2="54.78" y2="76.4" stroke="#222" stroke-width="0.75" />
<line x1="55.45" y1="74.4" x2="55.45" y2="76.4" stroke="#222" stroke-width="0.75" />
<line x1="56.03" y1="74.4" x2="56.03" y2="76.4" stroke="#222" stroke-width="0.75" />
<line x1="56.54" y1="74.4" x2="56.54" y2="76.4" stroke="#222" stroke-width="0.75" />
<line x1="57" y1="74.4" x2="57" y2="77.2" stroke="#222" stroke-width="0.75" />
<line x1="60.01" y1="74.4" x2="60.01" y2="76.4" stroke="#222" stroke-width="0.75" />
<line x1="61.77" y1="74.4" x2="61.77" y2="76.4" stroke="#222" stroke-width="0.75" />
<line x1="63.02" y1="74.4" x2="63.02" y2="76.4" stroke="#222" stroke-width="0.75" />
<line x1="63.99" y1="74.4" x2="63.99" y2="76.4" stroke="#222" stroke-width="0.75" />
<line x1="64.78" y1="74.4" x2="64.78" y2="76.4" stroke="#222" stroke-width="0.75" />
<line x1="65.45" y1="74.4" x2="65.45" y2="76.4" stroke="#222" stroke-width="0.75" />
<line x1="66.03" y1="74.4" x2="66.03" y2="76.4" stroke="#222" stroke-width="0.75" />
<line x1="66.54" y1="74.4" x2="66.54" y2="76.4" stroke="#222" stroke-width="0.75" />
<line x1="67" y1="74.4" x2="67" y2="77.2" stroke="#222" stroke-width="0.75" />
<line x1="70.01" y1="74.4" x2="70.01" y2="76.4" stroke="#222" stroke-width="0.75" />
<line x1="71.77" y1="74.4" x2="71.77" y2="76.4" stroke="#222" stroke-width="0.75" />
<line x1="73.02" y1="74.4" x2="73.02" y2="76.4" stroke="#222" stroke-width="0.75" />
<line x1="73.99" y1="74.4" x2="73.99" y2="76.4" stroke="#222" stroke-width="0.75" />
<line x1="74.78" y1="74.4" x2="74.78" y2="76.4" stroke="#222" stroke-width="0.75" />
<line x1="75.45" y1="74.4" x2="75.45" y2="76.4" stroke="#222" stroke-width="0.75" />
<line x1="76.03" y1="74.4" x2="76.03" y2="76.4" stroke="#222" stroke-width="0.75" />
<line x1="76.54" y1="74.4" x2="76.54" y2="76.4" stroke="#222" stroke-width="0.75" />
<line x1="77" y1="74.4" x2="77" y2="77.2" stroke="#222" stroke-width="0.75" />
<line x1="80.01" y1="74.4" x2="80.01" y2="76.4" stroke="#222" stroke-width="0.75" />
<line x1="81.77" y1="74.4" x2="81.77" y2="76.4" stroke="#222" stroke-width="0.75" />
<line x1="83.02" y1="74.4" x2="83.02" y2="76.4" stroke="#222" stroke-width="0.75" />
<line x1="83.99" y1="74.4" x2="83.99" y2="76.4" stroke="#222" stroke-width="0.75" />
<line x1="84.78" y1="74.4" x2="84.78" y2="76.4" stroke="#222" stroke-width="0.75" />
<line x1="85.45" y1="74.4" x2="85.45" y2="76.4" stroke="#222" stroke-width="0.75" />
<line x1="86.03" y1="74.4" x2="86.03" y2="76.4" stroke="#222" stroke-width="0.75" />
<line x1="86.54" y1="74.4" x2="86.54" y2="76.4" stroke="#222" stroke-width="0.75" />
<line x1="87" y1="74.4" x2="87" y2="77.2" stroke="#222" stroke-width="0.75" />
<line x1="90.01" y1="74.4" x2="90.01" y2="76.4" stroke="#222" stroke-width="0.75" />
<line x1="91.77" y1="74.4" x2="91.77" y2="76.4" stroke="#222" stroke-width="0.75" />
<line x1="93.02" y1="74.4" x2="93.02" y2="76.4" stroke="#222" stroke-width="0.75" />
<line x1="93.99" y1="74.4" x2="93.99" y2="76.4" stroke="#222" stroke-width="0.75" />
<rect x="45.5" y="24.6" width="49" height="49.8" fill="none" stroke="#222" stroke-width="1.1"/>
<line x1="70.9" y1="28.9" x2="76" y2="28.9" stroke="#3d5f9e" stroke-width="1.1" />
<line x1="70.9" y1="38.7" x2="76" y2="38.7" stroke="#c0264f" stroke-width="1.1" />
<text x="79.4" y="31.3" font-size="6.6" fill="#444" stroke="#444" stroke-width="0.05">Ctrl</text>
<text x="79.4" y="41.1" font-size="6.6" fill="#444" stroke="#444" stroke-width="0.05">cKO</text>
<line x1="44.8" y1="81.1" x2="90.7" y2="81.1" stroke="#3a5a9a" stroke-width="1.1" />
<path d="M90.2 78.9L94.6 81.1L90.2 83.3Z" fill="#3a5a9a"/>
<text x="70.3" y="89.6" font-size="6.4" fill="#444" stroke="#444" stroke-width="0.1" text-anchor="middle" textLength="12.6" lengthAdjust="spacingAndGlyphs">Fluo-4</text>
<path d="M212.6 74.3 L213.4 66 L214 50 L214.5 36 L214.9 31.8 L215.8 31.7 L216.2 40 L216.7 55 L217.2 70 L217.8 74.3Z" fill="#a9d596" fill-opacity="0.7" stroke="none"/>
<path d="M215 74.3 L216 66 L217 55 L218 46 L218.8 42.2 L219.4 41.4 L220 42.5 L220.6 48 L221.2 54.8 L222.2 60 L222.8 63.4 L224.2 67.5 L225.8 70.2 L227.5 71.6 L229.5 72.6 L233 73.4 L238 73.6 L242 73.9 L247 73.6 L251 73.9 L253 74.3Z" fill="#e5a9b9" fill-opacity="0.6" stroke="none"/>
<path d="M214.2 74.3 L215 66 L215.8 55 L216.6 45 L217.3 40.5 L218 39.8 L218.8 41.5 L219.7 47.4 L220.6 56 L221.5 64.6 L223 69 L224.6 71.4 L227 72.8 L229.5 73.5 L234 74 L238 74.3Z" fill="#9fb0d4" fill-opacity="0.5" stroke="none"/>
<path d="M212.6 74.3 L213.4 66 L214 50 L214.5 36 L214.9 31.8 L215.8 31.7 L216.2 40 L216.7 55 L217.2 70 L217.8 74.3" fill="none" stroke="#7fc06a" stroke-width="0.8"/>
<path d="M214.2 74.3 L215 66 L215.8 55 L216.6 45 L217.3 40.5 L218 39.8 L218.8 41.5 L219.7 47.4 L220.6 56 L221.5 64.6 L223 69 L224.6 71.4 L227 72.8 L229.5 73.5 L234 74 L238 74.3" fill="none" stroke="#3d5f9e" stroke-width="0.8"/>
<path d="M215 74.3 L216 66 L217 55 L218 46 L218.8 42.2 L219.4 41.4 L220 42.5 L220.6 48 L221.2 54.8 L222.2 60 L222.8 63.4 L224.2 67.5 L225.8 70.2 L227.5 71.6 L229.5 72.6 L233 73.4 L238 73.6 L242 73.9 L247 73.6 L251 73.9 L253 74.3" fill="none" stroke="#c0264f" stroke-width="0.9"/>
<line x1="200.1" y1="25.3" x2="203.5" y2="25.3" stroke="#222" stroke-width="0.85" />
<line x1="201.2" y1="29.25" x2="203.5" y2="29.25" stroke="#222" stroke-width="0.85" />
<line x1="201.2" y1="33.2" x2="203.5" y2="33.2" stroke="#222" stroke-width="0.85" />
<line x1="201.2" y1="37.15" x2="203.5" y2="37.15" stroke="#222" stroke-width="0.85" />
<line x1="201.2" y1="41.1" x2="203.5" y2="41.1" stroke="#222" stroke-width="0.85" />
<line x1="200.1" y1="45.05" x2="203.5" y2="45.05" stroke="#222" stroke-width="0.85" />
<line x1="201.2" y1="49" x2="203.5" y2="49" stroke="#222" stroke-width="0.85" />
<line x1="201.2" y1="52.95" x2="203.5" y2="52.95" stroke="#222" stroke-width="0.85" />
<line x1="201.2" y1="56.9" x2="203.5" y2="56.9" stroke="#222" stroke-width="0.85" />
<line x1="201.2" y1="60.85" x2="203.5" y2="60.85" stroke="#222" stroke-width="0.85" />
<line x1="200.1" y1="64.8" x2="203.5" y2="64.8" stroke="#222" stroke-width="0.85" />
<line x1="201.2" y1="68.75" x2="203.5" y2="68.75" stroke="#222" stroke-width="0.85" />
<line x1="201.2" y1="72.7" x2="203.5" y2="72.7" stroke="#222" stroke-width="0.85" />
<line x1="205" y1="74.3" x2="205" y2="77.1" stroke="#222" stroke-width="0.75" />
<line x1="208.07" y1="74.3" x2="208.07" y2="76.3" stroke="#222" stroke-width="0.75" />
<line x1="209.86" y1="74.3" x2="209.86" y2="76.3" stroke="#222" stroke-width="0.75" />
<line x1="211.14" y1="74.3" x2="211.14" y2="76.3" stroke="#222" stroke-width="0.75" />
<line x1="212.13" y1="74.3" x2="212.13" y2="76.3" stroke="#222" stroke-width="0.75" />
<line x1="212.93" y1="74.3" x2="212.93" y2="76.3" stroke="#222" stroke-width="0.75" />
<line x1="213.62" y1="74.3" x2="213.62" y2="76.3" stroke="#222" stroke-width="0.75" />
<line x1="214.21" y1="74.3" x2="214.21" y2="76.3" stroke="#222" stroke-width="0.75" />
<line x1="214.73" y1="74.3" x2="214.73" y2="76.3" stroke="#222" stroke-width="0.75" />
<line x1="215.2" y1="74.3" x2="215.2" y2="77.1" stroke="#222" stroke-width="0.75" />
<line x1="218.26" y1="74.3" x2="218.26" y2="76.3" stroke="#222" stroke-width="0.75" />
<line x1="220.06" y1="74.3" x2="220.06" y2="76.3" stroke="#222" stroke-width="0.75" />
<line x1="221.33" y1="74.3" x2="221.33" y2="76.3" stroke="#222" stroke-width="0.75" />
<line x1="222.32" y1="74.3" x2="222.32" y2="76.3" stroke="#222" stroke-width="0.75" />
<line x1="223.13" y1="74.3" x2="223.13" y2="76.3" stroke="#222" stroke-width="0.75" />
<line x1="223.81" y1="74.3" x2="223.81" y2="76.3" stroke="#222" stroke-width="0.75" />
<line x1="224.4" y1="74.3" x2="224.4" y2="76.3" stroke="#222" stroke-width="0.75" />
<line x1="224.92" y1="74.3" x2="224.92" y2="76.3" stroke="#222" stroke-width="0.75" />
<line x1="225.39" y1="74.3" x2="225.39" y2="77.1" stroke="#222" stroke-width="0.75" />
<line x1="228.46" y1="74.3" x2="228.46" y2="76.3" stroke="#222" stroke-width="0.75" />
<line x1="230.26" y1="74.3" x2="230.26" y2="76.3" stroke="#222" stroke-width="0.75" />
<line x1="231.53" y1="74.3" x2="231.53" y2="76.3" stroke="#222" stroke-width="0.75" />
<line x1="232.52" y1="74.3" x2="232.52" y2="76.3" stroke="#222" stroke-width="0.75" />
<line x1="233.33" y1="74.3" x2="233.33" y2="76.3" stroke="#222" stroke-width="0.75" />
<line x1="234.01" y1="74.3" x2="234.01" y2="76.3" stroke="#222" stroke-width="0.75" />
<line x1="234.6" y1="74.3" x2="234.6" y2="76.3" stroke="#222" stroke-width="0.75" />
<line x1="235.12" y1="74.3" x2="235.12" y2="76.3" stroke="#222" stroke-width="0.75" />
<line x1="235.59" y1="74.3" x2="235.59" y2="77.1" stroke="#222" stroke-width="0.75" />
<line x1="238.66" y1="74.3" x2="238.66" y2="76.3" stroke="#222" stroke-width="0.75" />
<line x1="240.45" y1="74.3" x2="240.45" y2="76.3" stroke="#222" stroke-width="0.75" />
<line x1="241.73" y1="74.3" x2="241.73" y2="76.3" stroke="#222" stroke-width="0.75" />
<line x1="242.71" y1="74.3" x2="242.71" y2="76.3" stroke="#222" stroke-width="0.75" />
<line x1="243.52" y1="74.3" x2="243.52" y2="76.3" stroke="#222" stroke-width="0.75" />
<line x1="244.2" y1="74.3" x2="244.2" y2="76.3" stroke="#222" stroke-width="0.75" />
<line x1="244.79" y1="74.3" x2="244.79" y2="76.3" stroke="#222" stroke-width="0.75" />
<line x1="245.32" y1="74.3" x2="245.32" y2="76.3" stroke="#222" stroke-width="0.75" />
<line x1="245.78" y1="74.3" x2="245.78" y2="77.1" stroke="#222" stroke-width="0.75" />
<line x1="248.85" y1="74.3" x2="248.85" y2="76.3" stroke="#222" stroke-width="0.75" />
<line x1="250.65" y1="74.3" x2="250.65" y2="76.3" stroke="#222" stroke-width="0.75" />
<line x1="251.92" y1="74.3" x2="251.92" y2="76.3" stroke="#222" stroke-width="0.75" />
<rect x="203.5" y="24.7" width="49.9" height="49.6" fill="none" stroke="#222" stroke-width="1.1"/>
<line x1="220.4" y1="28.4" x2="225.8" y2="28.4" stroke="#7fc06a" stroke-width="1.1" />
<line x1="220.4" y1="34.8" x2="225.8" y2="34.8" stroke="#3d5f9e" stroke-width="1.1" />
<line x1="220.4" y1="40.9" x2="225.8" y2="40.9" stroke="#c0264f" stroke-width="1.1" />
<text x="229" y="30.3" font-size="6.6" fill="#444" stroke="#444" stroke-width="0.05" textLength="21.6" lengthAdjust="spacingAndGlyphs">negative</text>
<text x="229" y="37.2" font-size="6.6" fill="#444" stroke="#444" stroke-width="0.05">Ctrl</text>
<text x="229" y="43.3" font-size="6.6" fill="#444" stroke="#444" stroke-width="0.05">cKO</text>
<line x1="204.8" y1="81.2" x2="250.1" y2="81.2" stroke="#3a5a9a" stroke-width="1.1" />
<path d="M249.6 79L254 81.2L249.6 83.4Z" fill="#3a5a9a"/>
<text x="229.4" y="89.6" font-size="6" fill="#444" stroke="#444" stroke-width="0.1" text-anchor="middle" textLength="14.6" lengthAdjust="spacingAndGlyphs">Rhod 2</text>
<defs><filter id="bl" x="-10%" y="-10%" width="120%" height="120%" color-interpolation-filters="sRGB"><feConvolveMatrix order="3" kernelMatrix="1 2 1 2 4 2 1 2 1" divisor="16" edgeMode="duplicate"/></filter><filter id="bl2" x="-20%" y="-20%" width="140%" height="140%" color-interpolation-filters="sRGB"><feGaussianBlur stdDeviation="1.2"/></filter><filter id="tex" x="0" y="0" width="100%" height="100%" filterUnits="objectBoundingBox"><feTurbulence type="fractalNoise" baseFrequency="0.28" numOctaves="2" seed="7" result="t"/><feColorMatrix in="t" type="matrix" values="0 0 0 0 0  0 0 0 0 0  0 0 0 0 0  2.2 0 0 0 -0.85"/></filter><filter id="tex2" x="0" y="0" width="100%" height="100%" filterUnits="objectBoundingBox"><feTurbulence type="fractalNoise" baseFrequency="0.6" numOctaves="1" seed="11" result="t"/><feColorMatrix in="t" type="matrix" values="0 0 0 0 1  0 0 0 0 1  0 0 0 0 1  2.0 0 0 0 -0.95"/></filter><clipPath id="c1"><rect x="368" y="122" width="32.8" height="39.8"/></clipPath><clipPath id="c2"><rect x="402.2" y="122.3" width="34.1" height="39.4"/></clipPath><clipPath id="c3"><rect x="367.6" y="162.5" width="33.2" height="42.2"/></clipPath><clipPath id="c4"><rect x="402.1" y="162.6" width="33.6" height="40.0"/></clipPath></defs>
<g clip-path="url(#c1)"><rect x="368" y="122" width="32.8" height="39.8" fill="#d6d6d6"/><g filter="url(#bl)"><path d="M368.8 139 C368.8 128.5 375.5 123.2 384.5 123.3 C393.5 123.5 399.4 130.5 399.3 140 C399.2 149.5 395.5 157.5 386 158.2 C376 158.8 368.8 150 368.8 139Z" fill="#828282"/><path d="M370.8 142 C370.5 136 373 132.5 378 132 C383 131.6 387.5 133 389.5 137 C391.5 141.5 391 148 388.5 151.5 C386 155 381 155.8 377 154.5 C373 153 371 148 370.8 142Z" fill="#7e7e7e" stroke="#262626" stroke-width="1.3" stroke-dasharray="5 1.2 3 1.5 6 1"/><path d="M371.2 137 C370.6 143 371.5 149 375 153.5" fill="none" stroke="#111" stroke-width="1.9"/><path d="M386 144 C388.5 146 389 149.5 387.5 152.5" fill="none" stroke="#2a2a2a" stroke-width="1.3"/><path d="M376 137 C378 134.5 381 135 383 137.5 M379 143 C382 142.5 384.5 144 385.5 147" fill="none" stroke="#505050" stroke-width="0.9"/><circle cx="375" cy="147" r="0.9" fill="#444"/><circle cx="381" cy="150.5" r="0.9" fill="#444"/><circle cx="384" cy="139" r="0.8" fill="#555"/><circle cx="369.6" cy="160.6" r="1.4" fill="#333"/><circle cx="394.5" cy="160.8" r="1.2" fill="#444"/></g><rect x="368" y="122" width="32.8" height="39.8" filter="url(#tex)" opacity="0.2"/><rect x="368" y="122" width="32.8" height="39.8" filter="url(#tex2)" opacity="0.12"/></g>
<g clip-path="url(#c2)"><rect x="402.2" y="122.3" width="34.1" height="39.4" fill="#939393"/><g filter="url(#bl2)"><path d="M401 120 L416 120 L412 126 L401 131 Z" fill="#c4c4c4"/><path d="M437 120 L426 120 L437 130 Z" fill="#bcbcbc"/><ellipse cx="426" cy="155.5" rx="5" ry="3.5" fill="#c8c8c8"/><ellipse cx="405" cy="153" rx="3" ry="5" fill="#aaaaaa"/></g><g filter="url(#bl)"><path d="M417 126 L423 134.5" stroke="#404040" stroke-width="3.6" stroke-linecap="round"/><path d="M417.5 127 L422.5 134" stroke="#777" stroke-width="1.2" stroke-linecap="round"/><path d="M414 133.5 C416 133 418 134.5 418.5 136.5" fill="none" stroke="#4a4a4a" stroke-width="1.8"/><path d="M403.5 144 C408 142.5 412.5 144.5 417.5 142" fill="none" stroke="#1e1e1e" stroke-width="1.8"/><path d="M404 137.5 L409.5 137" stroke="#606060" stroke-width="1.5"/><ellipse cx="431.8" cy="132.3" rx="1.9" ry="1.5" fill="#5a5a5a"/><ellipse cx="433.2" cy="143.7" rx="2.0" ry="1.6" fill="#4e4e4e"/><ellipse cx="420.3" cy="145.2" rx="1.6" ry="2.1" fill="#575757"/><ellipse cx="419" cy="160" rx="4.5" ry="2.2" fill="#3c3c3c"/><ellipse cx="435" cy="152.5" rx="1.8" ry="3.4" fill="#454545"/><ellipse cx="425" cy="140" rx="1.2" ry="1.0" fill="#666"/></g><rect x="402.2" y="122.3" width="34.1" height="39.4" filter="url(#tex)" opacity="0.2"/><rect x="402.2" y="122.3" width="34.1" height="39.4" filter="url(#tex2)" opacity="0.12"/></g>
<g clip-path="url(#c3)"><rect x="367.6" y="162.5" width="33.2" height="42.2" fill="#d9d9d9"/><g filter="url(#bl2)"><ellipse cx="374" cy="200" rx="7" ry="6" fill="#ececec"/></g><g filter="url(#bl)"><path d="M369.5 178 C369 169 376 164.5 384 164.6 C393 164.8 399 171 399.2 180 C399.4 190 396 199 386 200.3 C377 201.3 370 195 369.5 187 Z" fill="#969696"/><path d="M372 172 C374 167.5 381 166.5 387 167.5 C392.5 168.5 395 172 394.5 176 C393.5 179.5 388 179.8 384 179 C379 178.3 373.5 177.5 372 172Z" fill="#8a8a8a" stroke="#1e1e1e" stroke-width="1.3"/><ellipse cx="374.6" cy="185.6" rx="2.7" ry="3.0" fill="#8a8a8a" stroke="#141414" stroke-width="1.4"/><path d="M380 182 C381 186 384 188 388 187 M386 180 C387 183 390 184 391 182" fill="none" stroke="#505050" stroke-width="0.9"/></g><rect x="367.6" y="162.5" width="33.2" height="42.2" filter="url(#tex)" opacity="0.2"/><rect x="367.6" y="162.5" width="33.2" height="42.2" filter="url(#tex2)" opacity="0.12"/></g>
<g clip-path="url(#c4)"><rect x="402.1" y="162.6" width="33.6" height="40.0" fill="#a2a2a2"/><g filter="url(#bl2)"><path d="M401 161 L415 161 L401 176 Z" fill="#e4e4e4"/></g><g filter="url(#bl)"><circle cx="414.2" cy="176.2" r="1.4" fill="#747474"/><circle cx="424.8" cy="180.4" r="1.4" fill="#747474"/><circle cx="421.3" cy="181" r="1.3" fill="#777"/><circle cx="413.5" cy="181.2" r="1.4" fill="#747474"/><circle cx="418.4" cy="186.1" r="1.5" fill="#777"/><circle cx="421.3" cy="188.2" r="1.3" fill="#7a7a7a"/><circle cx="428" cy="172" r="1.2" fill="#7c7c7c"/><circle cx="410" cy="191" r="1.3" fill="#7c7c7c"/><path d="M423.5 197.5 C425 192.5 428 189 433 187.5" fill="none" stroke="#111" stroke-width="1.7"/><path d="M404 201 L434 201" stroke="#6a6a6a" stroke-width="1.6"/></g><rect x="402.1" y="162.6" width="33.6" height="40.0" filter="url(#tex)" opacity="0.2"/><rect x="402.1" y="162.6" width="33.6" height="40.0" filter="url(#tex2)" opacity="0.12"/></g>
<text x="363.8" y="146.9" font-size="7.2" fill="#222" stroke="#222" stroke-width="0.22" text-anchor="end">Ctrl</text>
<text x="364.3" y="183.9" font-size="7.2" fill="#222" stroke="#222" stroke-width="0.22" text-anchor="end">cKO</text>
<line x1="231" y1="239" x2="231" y2="288.7" stroke="#2a2a2a" stroke-width="1.25" stroke-dasharray="3.5 2.2" stroke-dashoffset="1.3"/>
<line x1="257.8" y1="238.6" x2="257.8" y2="288.7" stroke="#2a2a2a" stroke-width="1.25" stroke-dasharray="3.5 2.2" stroke-dashoffset="1.3"/>
<line x1="284.3" y1="243.3" x2="284.3" y2="288.7" stroke="#2a2a2a" stroke-width="1.25" stroke-dasharray="3.5 2.2" stroke-dashoffset="1.3"/>
<line x1="211.5" y1="268.8" x2="211.5" y2="277.2" stroke="#222" stroke-width="0.7" />
<line x1="210.5" y1="268.8" x2="212.5" y2="268.8" stroke="#222" stroke-width="0.7" />
<line x1="210.5" y1="277.2" x2="212.5" y2="277.2" stroke="#222" stroke-width="0.7" />
<line x1="220.7" y1="267.9" x2="220.7" y2="276.3" stroke="#222" stroke-width="0.7" />
<line x1="219.7" y1="267.9" x2="221.7" y2="267.9" stroke="#222" stroke-width="0.7" />
<line x1="219.7" y1="276.3" x2="221.7" y2="276.3" stroke="#222" stroke-width="0.7" />
<line x1="229.7" y1="267.3" x2="229.7" y2="275.9" stroke="#222" stroke-width="0.7" />
<line x1="228.7" y1="267.3" x2="230.7" y2="267.3" stroke="#222" stroke-width="0.7" />
<line x1="228.7" y1="275.9" x2="230.7" y2="275.9" stroke="#222" stroke-width="0.7" />
<line x1="238.8" y1="279.3" x2="238.8" y2="282.3" stroke="#222" stroke-width="0.7" />
<line x1="237.8" y1="279.3" x2="239.8" y2="279.3" stroke="#222" stroke-width="0.7" />
<line x1="237.8" y1="282.3" x2="239.8" y2="282.3" stroke="#222" stroke-width="0.7" />
<line x1="247.6" y1="279.6" x2="247.6" y2="282.6" stroke="#222" stroke-width="0.7" />
<line x1="246.6" y1="279.6" x2="248.6" y2="279.6" stroke="#222" stroke-width="0.7" />
<line x1="246.6" y1="282.6" x2="248.6" y2="282.6" stroke="#222" stroke-width="0.7" />
<line x1="256.5" y1="280.4" x2="256.5" y2="282.8" stroke="#222" stroke-width="0.7" />
<line x1="255.5" y1="280.4" x2="257.5" y2="280.4" stroke="#222" stroke-width="0.7" />
<line x1="255.5" y1="282.8" x2="257.5" y2="282.8" stroke="#222" stroke-width="0.7" />
<line x1="265.4" y1="251.7" x2="265.4" y2="264.1" stroke="#222" stroke-width="0.7" />
<line x1="264.4" y1="251.7" x2="266.4" y2="251.7" stroke="#222" stroke-width="0.7" />
<line x1="264.4" y1="264.1" x2="266.4" y2="264.1" stroke="#222" stroke-width="0.7" />
<line x1="274.4" y1="247.9" x2="274.4" y2="261.9" stroke="#222" stroke-width="0.7" />
<line x1="273.4" y1="247.9" x2="275.4" y2="247.9" stroke="#222" stroke-width="0.7" />
<line x1="273.4" y1="261.9" x2="275.4" y2="261.9" stroke="#222" stroke-width="0.7" />
<line x1="283.6" y1="246.8" x2="283.6" y2="261.8" stroke="#222" stroke-width="0.7" />
<line x1="282.6" y1="246.8" x2="284.6" y2="246.8" stroke="#222" stroke-width="0.7" />
<line x1="282.6" y1="261.8" x2="284.6" y2="261.8" stroke="#222" stroke-width="0.7" />
<line x1="292.3" y1="281.7" x2="292.3" y2="283.7" stroke="#222" stroke-width="0.7" />
<line x1="291.3" y1="281.7" x2="293.3" y2="281.7" stroke="#222" stroke-width="0.7" />
<line x1="291.3" y1="283.7" x2="293.3" y2="283.7" stroke="#222" stroke-width="0.7" />
<line x1="301.2" y1="282.1" x2="301.2" y2="284.1" stroke="#222" stroke-width="0.7" />
<line x1="300.2" y1="282.1" x2="302.2" y2="282.1" stroke="#222" stroke-width="0.7" />
<line x1="300.2" y1="284.1" x2="302.2" y2="284.1" stroke="#222" stroke-width="0.7" />
<line x1="310" y1="282.3" x2="310" y2="284.3" stroke="#222" stroke-width="0.7" />
<line x1="309" y1="282.3" x2="311" y2="282.3" stroke="#222" stroke-width="0.7" />
<line x1="309" y1="284.3" x2="311" y2="284.3" stroke="#222" stroke-width="0.7" />
<line x1="211.5" y1="275.4" x2="211.5" y2="285.8" stroke="#222" stroke-width="0.7" />
<line x1="210.5" y1="275.4" x2="212.5" y2="275.4" stroke="#222" stroke-width="0.7" />
<line x1="210.5" y1="285.8" x2="212.5" y2="285.8" stroke="#222" stroke-width="0.7" />
<line x1="220.7" y1="275.6" x2="220.7" y2="285.6" stroke="#222" stroke-width="0.7" />
<line x1="219.7" y1="275.6" x2="221.7" y2="275.6" stroke="#222" stroke-width="0.7" />
<line x1="219.7" y1="285.6" x2="221.7" y2="285.6" stroke="#222" stroke-width="0.7" />
<line x1="229.7" y1="275" x2="229.7" y2="285.4" stroke="#222" stroke-width="0.7" />
<line x1="228.7" y1="275" x2="230.7" y2="275" stroke="#222" stroke-width="0.7" />
<line x1="228.7" y1="285.4" x2="230.7" y2="285.4" stroke="#222" stroke-width="0.7" />
<line x1="238.8" y1="281.9" x2="238.8" y2="285.9" stroke="#222" stroke-width="0.7" />
<line x1="237.8" y1="281.9" x2="239.8" y2="281.9" stroke="#222" stroke-width="0.7" />
<line x1="237.8" y1="285.9" x2="239.8" y2="285.9" stroke="#222" stroke-width="0.7" />
<line x1="247.6" y1="280.3" x2="247.6" y2="284.7" stroke="#222" stroke-width="0.7" />
<line x1="246.6" y1="280.3" x2="248.6" y2="280.3" stroke="#222" stroke-width="0.7" />
<line x1="246.6" y1="284.7" x2="248.6" y2="284.7" stroke="#222" stroke-width="0.7" />
<line x1="256.5" y1="281.2" x2="256.5" y2="285.2" stroke="#222" stroke-width="0.7" />
<line x1="255.5" y1="281.2" x2="257.5" y2="281.2" stroke="#222" stroke-width="0.7" />
<line x1="255.5" y1="285.2" x2="257.5" y2="285.2" stroke="#222" stroke-width="0.7" />
<line x1="265.4" y1="270.2" x2="265.4" y2="284.2" stroke="#222" stroke-width="0.7" />
<line x1="264.4" y1="270.2" x2="266.4" y2="270.2" stroke="#222" stroke-width="0.7" />
<line x1="264.4" y1="284.2" x2="266.4" y2="284.2" stroke="#222" stroke-width="0.7" />
<line x1="274.4" y1="272" x2="274.4" y2="282" stroke="#222" stroke-width="0.7" />
<line x1="273.4" y1="272" x2="275.4" y2="272" stroke="#222" stroke-width="0.7" />
<line x1="273.4" y1="282" x2="275.4" y2="282" stroke="#222" stroke-width="0.7" />
<line x1="283.6" y1="272.5" x2="283.6" y2="283.5" stroke="#222" stroke-width="0.7" />
<line x1="282.6" y1="272.5" x2="284.6" y2="272.5" stroke="#222" stroke-width="0.7" />
<line x1="282.6" y1="283.5" x2="284.6" y2="283.5" stroke="#222" stroke-width="0.7" />
<line x1="292.3" y1="283.4" x2="292.3" y2="285" stroke="#222" stroke-width="0.7" />
<line x1="291.3" y1="283.4" x2="293.3" y2="283.4" stroke="#222" stroke-width="0.7" />
<line x1="291.3" y1="285" x2="293.3" y2="285" stroke="#222" stroke-width="0.7" />
<line x1="301.2" y1="283.8" x2="301.2" y2="285.4" stroke="#222" stroke-width="0.7" />
<line x1="300.2" y1="283.8" x2="302.2" y2="283.8" stroke="#222" stroke-width="0.7" />
<line x1="300.2" y1="285.4" x2="302.2" y2="285.4" stroke="#222" stroke-width="0.7" />
<line x1="310" y1="283.8" x2="310" y2="285.4" stroke="#222" stroke-width="0.7" />
<line x1="309" y1="283.8" x2="311" y2="283.8" stroke="#222" stroke-width="0.7" />
<line x1="309" y1="285.4" x2="311" y2="285.4" stroke="#222" stroke-width="0.7" />
<path d="M211.5 280.6 L220.7 280.6 L229.7 280.2 L238.8 283.9 L247.6 282.5 L256.5 283.2 L265.4 277.2 L274.4 277 L283.6 278 L292.3 284.2 L301.2 284.6 L310 284.6" fill="none" stroke="#2b4b8c" stroke-width="1.3" stroke-linejoin="round"/>
<path d="M211.5 273 L220.7 272.1 L229.7 271.6 L238.8 280.8 L247.6 281.1 L256.5 281.6 L265.4 257.9 L274.4 254.9 L283.6 254.3 L292.3 282.7 L301.2 283.1 L310 283.3" fill="none" stroke="#b0133e" stroke-width="1.3" stroke-linejoin="round"/>
<circle cx="211.5" cy="280.6" r="1.7" fill="#2b4b8c"/>
<circle cx="220.7" cy="280.6" r="1.7" fill="#2b4b8c"/>
<circle cx="229.7" cy="280.2" r="1.7" fill="#2b4b8c"/>
<circle cx="238.8" cy="283.9" r="1.7" fill="#2b4b8c"/>
<circle cx="247.6" cy="282.5" r="1.7" fill="#2b4b8c"/>
<circle cx="256.5" cy="283.2" r="1.7" fill="#2b4b8c"/>
<circle cx="265.4" cy="277.2" r="1.7" fill="#2b4b8c"/>
<circle cx="274.4" cy="277" r="1.7" fill="#2b4b8c"/>
<circle cx="283.6" cy="278" r="1.7" fill="#2b4b8c"/>
<circle cx="292.3" cy="284.2" r="1.7" fill="#2b4b8c"/>
<circle cx="301.2" cy="284.6" r="1.7" fill="#2b4b8c"/>
<circle cx="310" cy="284.6" r="1.7" fill="#2b4b8c"/>
<circle cx="211.5" cy="273" r="1.7" fill="#b0133e"/>
<circle cx="220.7" cy="272.1" r="1.7" fill="#b0133e"/>
<circle cx="229.7" cy="271.6" r="1.7" fill="#b0133e"/>
<circle cx="238.8" cy="280.8" r="1.7" fill="#b0133e"/>
<circle cx="247.6" cy="281.1" r="1.7" fill="#b0133e"/>
<circle cx="256.5" cy="281.6" r="1.7" fill="#b0133e"/>
<circle cx="265.4" cy="257.9" r="1.7" fill="#b0133e"/>
<circle cx="274.4" cy="254.9" r="1.7" fill="#b0133e"/>
<circle cx="283.6" cy="254.3" r="1.7" fill="#b0133e"/>
<circle cx="292.3" cy="282.7" r="1.7" fill="#b0133e"/>
<circle cx="301.2" cy="283.1" r="1.7" fill="#b0133e"/>
<circle cx="310" cy="283.3" r="1.7" fill="#b0133e"/>
<line x1="210.35" y1="234" x2="210.35" y2="289.7" stroke="#111" stroke-width="1.1" />
<line x1="209.85" y1="289.2" x2="321.5" y2="289.2" stroke="#111" stroke-width="1.1" />
<line x1="207.35" y1="278.92" x2="210.35" y2="278.92" stroke="#111" stroke-width="0.9" />
<text x="204.3" y="281.42" font-size="7.6" fill="#222" stroke="#222" stroke-width="0.12" text-anchor="end" textLength="14" lengthAdjust="spacingAndGlyphs">50.0</text>
<line x1="207.35" y1="268.64" x2="210.35" y2="268.64" stroke="#111" stroke-width="0.9" />
<text x="204.3" y="271.14" font-size="7.6" fill="#222" stroke="#222" stroke-width="0.12" text-anchor="end" textLength="18" lengthAdjust="spacingAndGlyphs">100.0</text>
<line x1="207.35" y1="258.36" x2="210.35" y2="258.36" stroke="#111" stroke-width="0.9" />
<text x="204.3" y="260.86" font-size="7.6" fill="#222" stroke="#222" stroke-width="0.12" text-anchor="end" textLength="18" lengthAdjust="spacingAndGlyphs">150.0</text>
<line x1="207.35" y1="248.08" x2="210.35" y2="248.08" stroke="#111" stroke-width="0.9" />
<text x="204.3" y="250.58" font-size="7.6" fill="#222" stroke="#222" stroke-width="0.12" text-anchor="end" textLength="18" lengthAdjust="spacingAndGlyphs">200.0</text>
<line x1="207.35" y1="237.8" x2="210.35" y2="237.8" stroke="#111" stroke-width="0.9" />
<text x="204.3" y="240.3" font-size="7.6" fill="#222" stroke="#222" stroke-width="0.12" text-anchor="end" textLength="18" lengthAdjust="spacingAndGlyphs">250.0</text>
<line x1="210.3" y1="289.2" x2="210.3" y2="292.5" stroke="#111" stroke-width="0.9" />
<text x="210.3" y="301.9" font-size="7.4" fill="#222" stroke="#222" stroke-width="0.12" text-anchor="middle" textLength="4" lengthAdjust="spacingAndGlyphs">0</text>
<line x1="231.05" y1="289.2" x2="231.05" y2="292.5" stroke="#111" stroke-width="0.9" />
<text x="231.05" y="301.9" font-size="7.4" fill="#222" stroke="#222" stroke-width="0.12" text-anchor="middle" textLength="8" lengthAdjust="spacingAndGlyphs">20</text>
<line x1="251.8" y1="289.2" x2="251.8" y2="292.5" stroke="#111" stroke-width="0.9" />
<text x="251.8" y="301.9" font-size="7.4" fill="#222" stroke="#222" stroke-width="0.12" text-anchor="middle" textLength="8" lengthAdjust="spacingAndGlyphs">40</text>
<line x1="272.55" y1="289.2" x2="272.55" y2="292.5" stroke="#111" stroke-width="0.9" />
<text x="272.55" y="301.9" font-size="7.4" fill="#222" stroke="#222" stroke-width="0.12" text-anchor="middle" textLength="8" lengthAdjust="spacingAndGlyphs">60</text>
<line x1="293.3" y1="289.2" x2="293.3" y2="292.5" stroke="#111" stroke-width="0.9" />
<text x="293.3" y="301.9" font-size="7.4" fill="#222" stroke="#222" stroke-width="0.12" text-anchor="middle" textLength="8" lengthAdjust="spacingAndGlyphs">80</text>
<line x1="314.05" y1="289.2" x2="314.05" y2="292.5" stroke="#111" stroke-width="0.9" />
<text x="314.05" y="301.9" font-size="7.4" fill="#222" stroke="#222" stroke-width="0.12" text-anchor="middle" textLength="12" lengthAdjust="spacingAndGlyphs">100</text>
<text x="266.4" y="314.6" font-size="9.2" fill="#222" stroke="#222" stroke-width="0.22" text-anchor="middle" textLength="35.6" lengthAdjust="spacingAndGlyphs">Time (min)</text>
<text x="180.9" y="261" font-size="8.7" fill="#222" stroke="#222" stroke-width="0.22" text-anchor="middle" transform="rotate(-90 180.9 261)" textLength="53.4" lengthAdjust="spacingAndGlyphs">OCR (pmol/min)</text>
<text x="229.2" y="234" font-size="6.8" fill="#222" stroke="#222" stroke-width="0.08" text-anchor="middle" textLength="29.8" lengthAdjust="spacingAndGlyphs">Oligomycin</text>
<text x="256" y="234" font-size="6.8" fill="#222" stroke="#222" stroke-width="0.08" text-anchor="middle" textLength="14.3" lengthAdjust="spacingAndGlyphs">FCCP</text>
<text x="281.3" y="230.5" font-size="6.8" fill="#222" stroke="#222" stroke-width="0.08" text-anchor="middle" textLength="28.5" lengthAdjust="spacingAndGlyphs">Antimycin/</text>
<text x="280.9" y="237.9" font-size="6.8" fill="#222" stroke="#222" stroke-width="0.08" text-anchor="middle" textLength="25" lengthAdjust="spacingAndGlyphs">Rotenone</text>
<text x="264.6" y="251.6" font-size="7" fill="#222" stroke="#222" stroke-width="0.22" text-anchor="middle" textLength="4.4" lengthAdjust="spacingAndGlyphs">**</text>
<text x="278.6" y="247" font-size="7" fill="#222" stroke="#222" stroke-width="0.22" text-anchor="middle" textLength="9.6" lengthAdjust="spacingAndGlyphs">****</text>
<line x1="301.2" y1="237.6" x2="308.6" y2="237.6" stroke="#2b4b8c" stroke-width="1.3" />
<line x1="301.2" y1="247.2" x2="308.6" y2="247.2" stroke="#b0133e" stroke-width="1.3" />
<text x="310.4" y="240" font-size="6.6" fill="#222" stroke="#222" stroke-width="0.22">Ctrl</text>
<text x="310.4" y="249.6" font-size="6.6" fill="#222" stroke="#222" stroke-width="0.22">cKO</text>
</svg></body></html>
